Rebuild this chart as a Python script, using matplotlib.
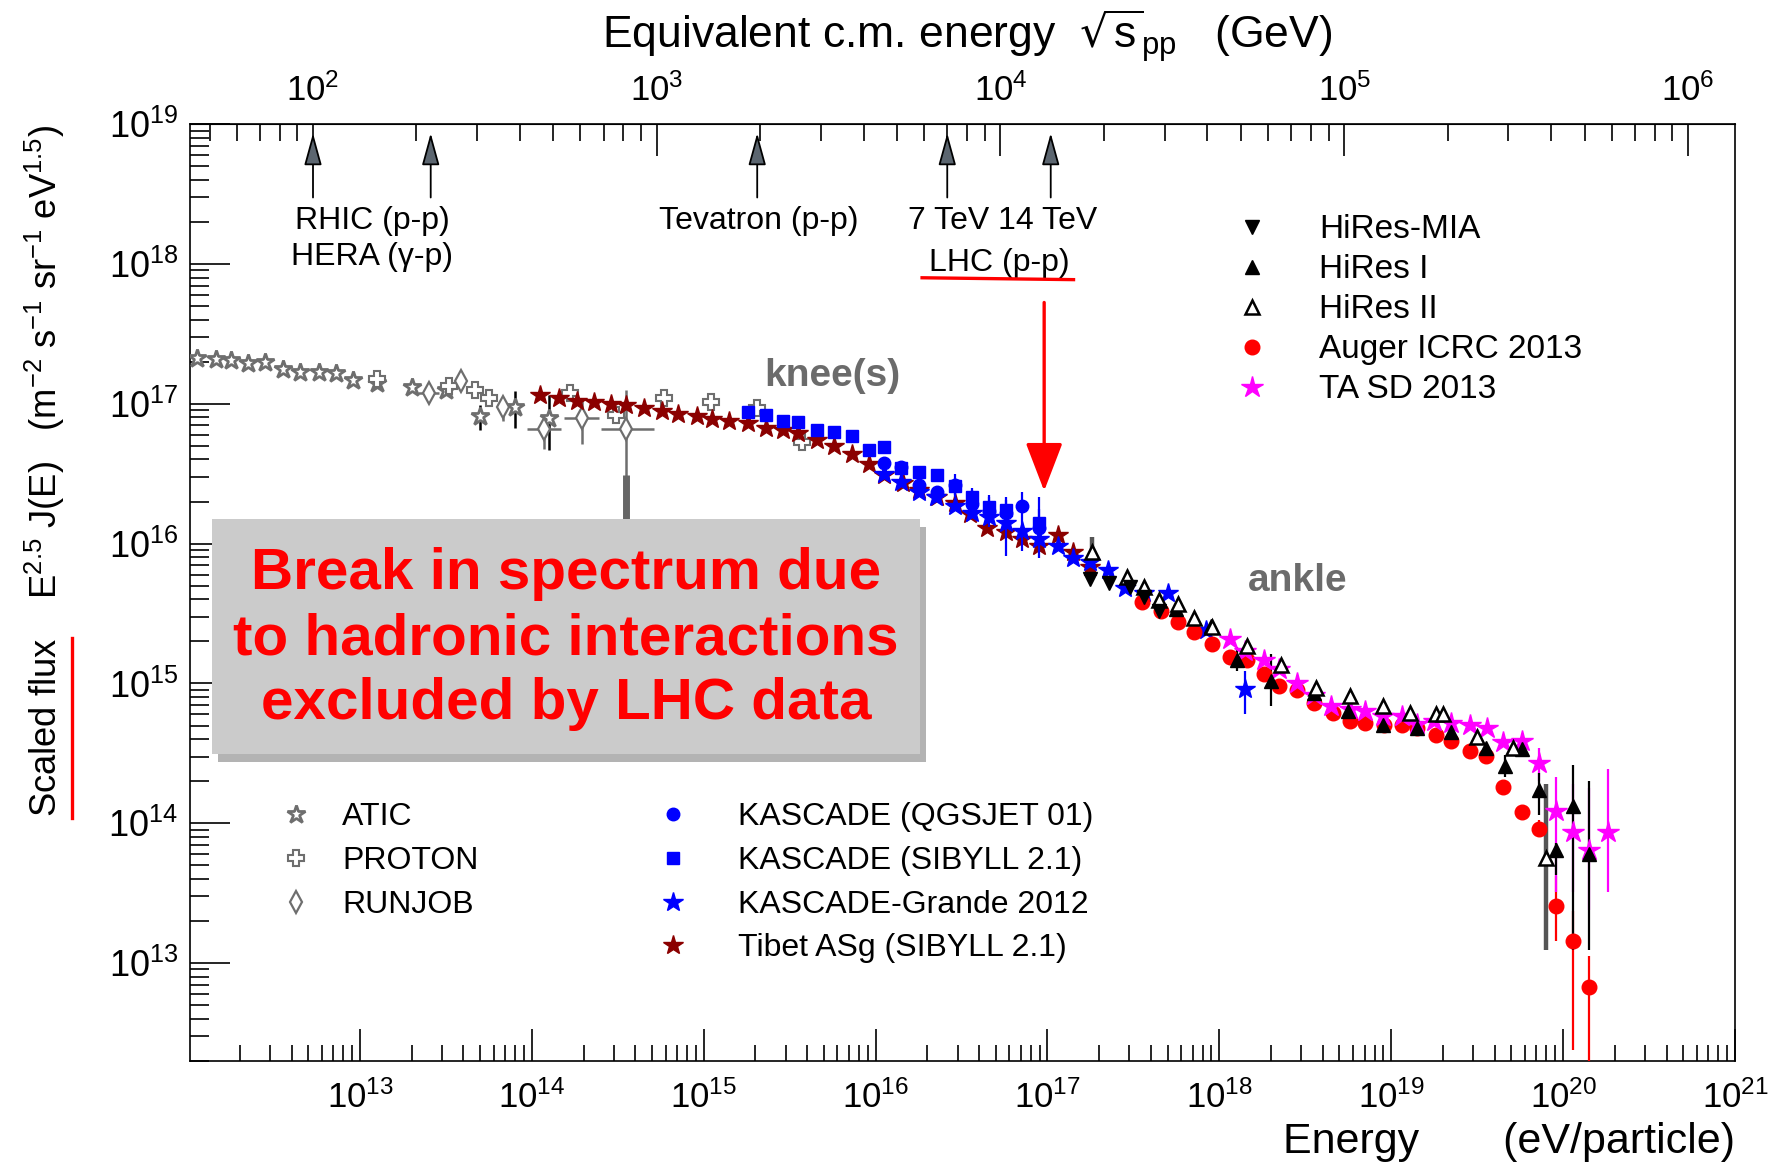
import numpy as np
import matplotlib
matplotlib.use("Agg")
import matplotlib.pyplot as plt
from matplotlib.patches import Rectangle, FancyArrowPatch
from matplotlib.lines import Line2D
from matplotlib.ticker import LogLocator, FixedLocator, NullFormatter

plt.rcParams['font.family'] = ['Liberation Sans', 'DejaVu Sans']
plt.rcParams['mathtext.default'] = 'regular'

nan = np.nan

# ---------------- spectra: log10(E/eV) and log10(E^2.5 J(E)) ----------------
atic_loge = [12.05, 12.16, 12.25, 12.35, 12.45, 12.55, 12.65, 12.76, 12.86, 12.96,
             13.10, 13.30, 13.50, 13.70, 13.90, 14.10]
atic_logf = [17.33, 17.32, 17.31, 17.29, 17.30, 17.25, 17.23, 17.23, 17.22, 17.17,
             17.15, 17.12, 17.10, 16.91, 16.98, 16.90]
atic_lo = [nan] * 13 + [16.81, 16.83, 16.67]
atic_hi = [nan] * 13 + [16.99, 17.09, 17.06]

proton_loge = [13.10, 13.52, 13.67, 13.75, 14.22, 14.49, 14.77, 15.04, 15.31, 15.57]
proton_logf = [17.18, 17.13, 17.10, 17.04, 17.08, 16.92, 17.04, 17.01, 16.97, 16.73]

runjob_loge = [13.40, 13.59, 13.83, 14.07, 14.29, 14.55]
runjob_logf = [17.08, 17.16, 16.98, 16.82, 16.90, 16.82]
runjob_xlo = [0.06, 0.0, 0.0, 0.10, 0.10, 0.15]
runjob_xhi = [0.06, 0.0, 0.0, 0.10, 0.10, 0.16]
runjob_lo = [nan, nan, 16.88, 16.68, 16.71, 16.00]
runjob_hi = [nan, nan, 17.04, 16.92, 17.04, 17.10]
runjob_sys = (16.00, 16.49)   # wide band under the last RUNJOB bin

tibet_loge = [14.05, 14.16, 14.26, 14.36, 14.46, 14.55, 14.65, 14.76, 14.85, 14.96,
              15.05, 15.15, 15.26, 15.36, 15.46, 15.55, 15.66, 15.76, 15.86, 15.96,
              16.05, 16.16, 16.25, 16.36, 16.46, 16.55, 16.65, 16.76, 16.85, 16.95,
              17.06, 17.15, 17.25]
tibet_logf = [17.06, 17.04, 17.02, 17.01, 17.00, 16.99, 16.97, 16.95, 16.93, 16.91,
              16.89, 16.88, 16.86, 16.83, 16.81, 16.79, 16.74, 16.70, 16.64, 16.57,
              16.49, 16.43, 16.38, 16.33, 16.29, 16.21, 16.11, 16.08, 16.03, 15.98,
              16.06, 15.94, 15.83]

kas_sib_loge = [15.26, 15.36, 15.46, 15.55, 15.66, 15.76, 15.86, 15.96, 16.05, 16.15,
                16.25, 16.36, 16.46, 16.56, 16.66, 16.76, 16.95]
kas_sib_logf = [16.94, 16.92, 16.88, 16.87, 16.81, 16.80, 16.77, 16.67, 16.69, 16.54,
                16.51, 16.49, 16.41, 16.33, 16.26, 16.24, 16.15]
kas_sib_lo = [nan] * 12 + [16.35, 16.24, 16.18, 16.10, 15.90]
kas_sib_hi = [nan] * 12 + [16.47, 16.40, 16.33, 16.33, 16.33]

kas_qgs_loge = [16.05, 16.15, 16.25, 16.36, 16.46, 16.56, 16.66, 16.76, 16.85, 16.95]
kas_qgs_logf = [16.58, 16.55, 16.42, 16.37, 16.42, 16.28, 16.23, 16.22, 16.27, 16.11]
kas_qgs_lo = [nan, nan, nan, nan, 16.33, 16.18, 16.12, 15.91, 15.95, 15.98]
kas_qgs_hi = [nan, nan, nan, nan, 16.50, 16.38, 16.35, 16.31, 16.37, 16.25]

grande_loge = [16.05, 16.15, 16.25, 16.35, 16.46, 16.56, 16.66, 16.76, 16.85, 16.95,
               17.06, 17.15, 17.25, 17.35, 17.45, 17.56, 17.70, 17.92, 18.15]
grande_logf = [16.50, 16.44, 16.37, 16.33, 16.27, 16.22, 16.19, 16.15, 16.09, 16.03,
               15.98, 15.90, 15.87, 15.81, 15.68, 15.65, 15.65, 15.38, 14.96]
grande_lo = [nan] * 18 + [14.78]
grande_hi = [nan] * 18 + [15.09]

mia_loge = [17.25, 17.36, 17.48, 17.56, 17.65]
mia_logf = [15.75, 15.72, 15.69, 15.62, 15.52]

hires1_loge = [17.75, 17.95, 18.10, 18.30, 18.55, 18.75, 18.95, 19.15, 19.35, 19.55,
               19.66, 19.76, 19.86, 19.96, 20.06, 20.15]
hires1_logf = [15.53, 15.41, 15.17, 15.02, 14.93, 14.80, 14.70, 14.68, 14.65, 14.54,
               14.41, 14.53, 14.24, 13.81, 14.12, 13.78]
hires1_lo = [nan, nan, 15.09, 14.84, nan, nan, nan, nan, nan, nan,
             14.33, nan, 14.06, 13.63, 13.09, 13.09]
hires1_hi = [nan, nan, 15.26, 15.21, nan, nan, nan, nan, nan, nan,
             14.49, nan, 14.36, 13.86, 14.42, 14.30]

hires2_loge = [17.26, 17.46, 17.56, 17.65, 17.76, 17.85, 17.96, 18.16, 18.36, 18.56,
               18.76, 18.95, 19.11, 19.26, 19.30, 19.50, 19.71, 19.90]
hires2_logf = [15.94, 15.76, 15.69, 15.60, 15.57, 15.47, 15.40, 15.27, 15.13, 14.97,
               14.91, 14.84, 14.79, 14.78, 14.78, 14.62, 14.54, 13.75]
hires2_lo = [15.90] + [nan] * 16 + [13.09]
hires2_hi = [16.05] + [nan] * 16 + [14.28]

auger_loge = [17.55, 17.66, 17.76, 17.85, 17.96, 18.06, 18.16, 18.26, 18.35, 18.45,
              18.55, 18.66, 18.76, 18.85, 18.96, 19.06, 19.15, 19.26, 19.35, 19.46,
              19.55, 19.65, 19.76, 19.86, 19.96, 20.06, 20.15]
auger_logf = [15.58, 15.52, 15.44, 15.37, 15.28, 15.19, 15.17, 15.07, 14.98, 14.95,
              14.86, 14.79, 14.73, 14.72, 14.70, 14.70, 14.68, 14.63, 14.59, 14.52,
              14.48, 14.26, 14.08, 13.96, 13.41, 13.16, 12.83]
auger_lo = [nan] * 23 + [13.90, 13.16, 12.38, 12.00]
auger_hi = [nan] * 23 + [14.02, 13.62, 13.37, 13.05]

ta_loge = [18.06, 18.15, 18.26, 18.35, 18.45, 18.55, 18.65, 18.76, 18.85, 18.95,
           19.06, 19.15, 19.25, 19.35, 19.46, 19.56, 19.65, 19.76, 19.86, 19.96,
           20.06, 20.15, 20.26]
ta_logf = [15.32, 15.23, 15.17, 15.10, 15.00, 14.92, 14.84, 14.82, 14.80, 14.77,
           14.77, 14.71, 14.73, 14.72, 14.70, 14.68, 14.58, 14.59, 14.43, 14.09,
           13.94, 13.81, 13.94]
ta_lo = [nan] * 18 + [14.30, 13.51, 13.51, 13.38, 13.51]
ta_hi = [nan] * 18 + [14.54, 14.33, 14.28, 14.25, 14.39]

# collider energies, sqrt(s) in GeV
collider_sqrts = [100, 220, 1960, 7000, 14000]

GRAY = '#6e6e6e'
LABEL_GRAY = '#6b6b6b'
MP2 = 2 * 0.938e9   # 2 m_p in eV


def e_to_sqrts(e):
    e = np.clip(np.asarray(e, dtype=float), 1e-30, None)
    return np.sqrt(MP2 * e) / 1e9


def sqrts_to_e(s):
    s = np.asarray(s, dtype=float)
    return (s * 1e9) ** 2 / MP2


fig = plt.figure(figsize=(17.70, 11.68), dpi=100)
ax = fig.add_axes([0.1071, 0.0918, 0.8731, 0.8019])
ax.set_xscale('log')
ax.set_yscale('log')
ax.set_xlim(1.02e12, 1e21)
ax.set_ylim(2e12, 1e19)


def P(v):
    return 10 ** np.asarray(v, dtype=float)


def ybars(loge, lo, hi, color, lw=1.6, z=2):
    lo = np.asarray(lo, dtype=float)
    hi = np.asarray(hi, dtype=float)
    ok = ~np.isnan(lo)
    ax.vlines(P(loge)[ok], P(lo[ok]), P(hi[ok]), colors=color, lw=lw, zorder=z)


# low energy direct measurements
ybars(atic_loge, atic_lo, atic_hi, 'black', lw=1.8)
h_atic, = ax.plot(P(atic_loge), P(atic_logf), ls='none', marker='*', ms=13.5,
                  mfc='white', mec=GRAY, mew=2.0, zorder=3, label='ATIC')
h_proton, = ax.plot(P(proton_loge), P(proton_logf), ls='none', marker='P', ms=11,
                    mfc='white', mec=GRAY, mew=1.5, zorder=3, label='PROTON')
ybars(runjob_loge, runjob_lo, runjob_hi, GRAY, lw=1.8)
ax.hlines(P(runjob_logf), P(np.array(runjob_loge) - runjob_xlo),
          P(np.array(runjob_loge) + runjob_xhi), colors=GRAY, lw=1.8, zorder=2)
ax.vlines(P(runjob_loge[-1]), P(runjob_sys[0]), P(runjob_sys[1]),
          colors='#666666', lw=5, zorder=2)
h_runjob, = ax.plot(P(runjob_loge), P(runjob_logf), ls='none', marker='d', ms=11,
                    mfc='white', mec=GRAY, mew=1.6, zorder=3, label='RUNJOB')

# air shower arrays
h_tibet, = ax.plot(P(tibet_loge), P(tibet_logf), ls='none', marker='*', ms=15,
                   color='#8b0000', zorder=4, label='Tibet ASg (SIBYLL 2.1)')
ybars(kas_sib_loge, kas_sib_lo, kas_sib_hi, 'blue', z=4)
h_sib, = ax.plot(P(kas_sib_loge), P(kas_sib_logf), ls='none', marker='s', ms=9,
                 color='blue', zorder=5, label='KASCADE (SIBYLL 2.1)')
ybars(kas_qgs_loge, kas_qgs_lo, kas_qgs_hi, 'blue', z=4)
h_qgs, = ax.plot(P(kas_qgs_loge), P(kas_qgs_logf), ls='none', marker='o', ms=9,
                 color='blue', zorder=5, label='KASCADE (QGSJET 01)')
ybars(grande_loge, grande_lo, grande_hi, 'blue', z=4)
h_grande, = ax.plot(P(grande_loge), P(grande_logf), ls='none', marker='*', ms=15,
                    color='blue', zorder=5, label='KASCADE-Grande 2012')

ybars(auger_loge, auger_lo, auger_hi, 'red', z=5)
h_auger, = ax.plot(P(auger_loge), P(auger_logf), ls='none', marker='o', ms=10.5,
                   color='red', zorder=6, label='Auger ICRC 2013')
ybars(ta_loge, ta_lo, ta_hi, 'magenta', z=5)
h_ta, = ax.plot(P(ta_loge), P(ta_logf), ls='none', marker='*', ms=16,
                color='magenta', zorder=6, label='TA SD 2013')
ybars(hires1_loge, hires1_lo, hires1_hi, 'black', z=5)
h_hr1, = ax.plot(P(hires1_loge), P(hires1_logf), ls='none', marker='^', ms=10,
                 color='black', zorder=7, label='HiRes I')
ybars(hires2_loge, hires2_lo, hires2_hi, '#555555', lw=3.2, z=5)
h_hr2, = ax.plot(P(hires2_loge), P(hires2_logf), ls='none', marker='^', ms=10,
                 mfc='white', mec='black', mew=1.8, zorder=7, label='HiRes II')
h_mia, = ax.plot(P(mia_loge), P(mia_logf), ls='none', marker='v', ms=10,
                 color='black', zorder=7, label='HiRes-MIA')

# axes styling
for sp in ax.spines.values():
    sp.set_linewidth(1.2)
ax.xaxis.set_major_locator(FixedLocator(10.0 ** np.arange(13, 22)))
ax.xaxis.set_minor_locator(LogLocator(base=10, subs=np.arange(2, 10), numticks=30))
ax.xaxis.set_minor_formatter(NullFormatter())
ax.yaxis.set_major_locator(FixedLocator(10.0 ** np.arange(13, 20)))
ax.yaxis.set_minor_locator(LogLocator(base=10, subs=np.arange(2, 10), numticks=30))
ax.yaxis.set_minor_formatter(NullFormatter())
ax.tick_params(axis='x', which='major', direction='in', length=23, width=1.2,
               top=False, labelsize=25, pad=14,
               labelfontfamily=['Liberation Sans Narrow', 'Liberation Sans'])
ax.tick_params(axis='x', which='minor', direction='in', length=11.5, width=1.2, top=False)
ax.tick_params(axis='y', which='major', direction='in', length=29, width=1.2,
               right=False, labelsize=26, pad=8)
ax.tick_params(axis='y', which='minor', direction='in', length=14, width=1.2, right=False)

secax = ax.secondary_xaxis('top', functions=(e_to_sqrts, sqrts_to_e))
secax.xaxis.set_major_locator(FixedLocator(10.0 ** np.arange(2, 7)))
secax.xaxis.set_minor_formatter(NullFormatter())
secax.tick_params(which='major', direction='in', length=23, width=1.2,
                  labelsize=25, pad=12)
secax.tick_params(which='minor', direction='in', length=12, width=1.2)

# collider markers along the top
for s in collider_sqrts:
    ax.add_patch(FancyArrowPatch((sqrts_to_e(s), 0.9217), (sqrts_to_e(s), 0.9904),
                                 transform=ax.get_xaxis_transform(),
                                 arrowstyle='-|>,head_length=2.0,head_width=0.55',
                                 mutation_scale=10, shrinkA=0, shrinkB=0,
                                 fc='#5c6670', ec='black', lw=1.3, zorder=8))
txt = dict(transform=ax.transAxes, ha='center', va='center', fontsize=23, zorder=8)
ax.text(0.1183, 0.8964, 'RHIC (p-p)', **txt)
ax.text(0.1183, 0.8578, 'HERA (γ-p)', **txt)
ax.text(0.3681, 0.8964, 'Tevatron (p-p)', **txt)
ax.text(0.5259, 0.8964, '7 TeV 14 TeV', **txt)
ax.text(0.5237, 0.8518, 'LHC (p-p)', **txt)
ax.add_line(Line2D([0.474, 0.572], [0.836, 0.834], transform=ax.transAxes,
                   color='red', lw=2.4, zorder=8))
ax.add_patch(FancyArrowPatch((0.553, 0.8096), (0.553, 0.6084), transform=ax.transAxes,
                             arrowstyle='-|>,head_length=3.0,head_width=1.15',
                             mutation_scale=10, shrinkA=0, shrinkB=0,
                             fc='red', ec='red', lw=2.4, zorder=8))

ax.text(0.4156, 0.731, 'knee(s)', transform=ax.transAxes, ha='center', va='center',
        fontsize=28, fontweight='bold', color=LABEL_GRAY, zorder=8)
ax.text(0.7173, 0.512, 'ankle', transform=ax.transAxes, ha='center', va='center',
        fontsize=28, fontweight='bold', color=LABEL_GRAY, zorder=8)

# boxed statement with drop shadow
bx0, by0, bw, bh = 0.0146, 0.3277, 0.4580, 0.2506
ax.add_patch(Rectangle((bx0 + 0.0039, by0 - 0.0085), bw, bh, transform=ax.transAxes,
                       fc='#b3b3b3', ec='none', zorder=9))
ax.add_patch(Rectangle((bx0, by0), bw, bh, transform=ax.transAxes,
                       fc='#cbcbcb', ec='none', zorder=10))
ax.text(bx0 + bw / 2, by0 + bh / 2 - 0.003,
        'Break in spectrum due\nto hadronic interactions\nexcluded by LHC data',
        transform=ax.transAxes, ha='center', va='center', fontsize=42,
        fontweight='bold', color='red', linespacing=1.26, zorder=11)

# legends
leg_kw = dict(frameon=False, numpoints=1, borderpad=0, borderaxespad=0,
              handlelength=1.0, loc='upper left')
leg1 = ax.legend(handles=[h_atic, h_proton, h_runjob], fontsize=23,
                 bbox_to_anchor=(0.0584, 0.276), handletextpad=0.95,
                 labelspacing=0.43, **leg_kw)
ax.add_artist(leg1)
leg2 = ax.legend(handles=[h_qgs, h_sib, h_grande, h_tibet], fontsize=23,
                 bbox_to_anchor=(0.3024, 0.276), handletextpad=1.55,
                 labelspacing=0.43, **leg_kw)
ax.add_artist(leg2)
ax.legend(handles=[h_mia, h_hr1, h_hr2, h_auger, h_ta], fontsize=24,
          bbox_to_anchor=(0.677, 0.9036), handletextpad=1.5,
          labelspacing=0.27, **leg_kw)

# axis titles
fig.text(0.5465, 0.969, 'Equivalent c.m. energy  $\\sqrt{s}_{pp}$   (GeV)',
         ha='center', va='center', fontsize=32)
fig.text(0.980, 0.0222, 'Energy       (eV/particle)', ha='right', va='center',
         fontsize=31)
fig.text(0.0255, 0.5966,
         'Scaled flux    E$^{2.5}$ J(E)   (m$^{-2}$ s$^{-1}$ sr$^{-1}$ eV$^{1.5}$)',
         rotation=90, ha='center', va='center', fontsize=26.2)
fig.add_artist(Line2D([0.0408, 0.0408], [0.2995, 0.4541], transform=fig.transFigure,
                      color='red', lw=2.4))

fig.savefig('out.png', dpi=100)
